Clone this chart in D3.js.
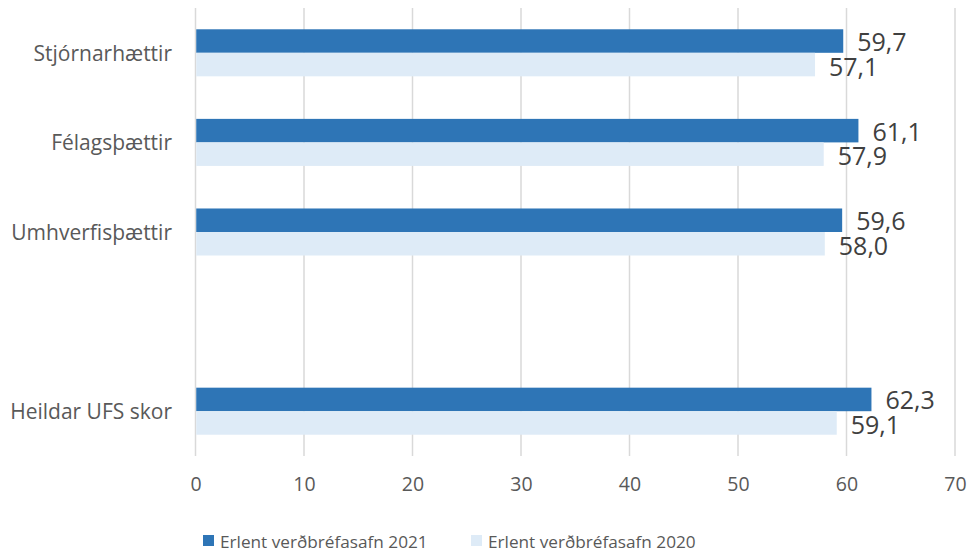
<!DOCTYPE html>
<html><head><meta charset="utf-8">
<script src="https://cdn.jsdelivr.net/npm/d3@7"></script>
<style>body{margin:0;background:#fff}svg{display:block}</style>
</head><body><svg id="c" width="971" height="551"></svg>
<script>
const categories = ["Stjórnarhættir","Félagsþættir","Umhverfisþættir","","Heildar UFS skor"];
const values2021 = [59.7, 61.1, 59.6, null, 62.3];
const values2020 = [57.1, 57.9, 58.0, null, 59.1];
const seriesNames = ["Erlent verðbréfasafn 2021","Erlent verðbréfasafn 2020"];
const xTicks = [0,10,20,30,40,50,60,70];
const colors = ["#2E75B6","#DEEBF7"];

const font = "'Open Sans', Lato, sans-serif";
const svg = d3.select("#c");
const m = {l:195.5, r:955, t:8, b:456};
const x = d3.scaleLinear().domain([0,70]).range([m.l, m.r]);
const y = d3.scaleBand().domain(d3.range(categories.length)).range([m.t, m.b]).paddingInner(0.475).paddingOuter(0.2375);
const ys = d3.scaleBand().domain([0,1]).range([0, y.bandwidth()]);

// gridlines
svg.append("g").selectAll("line").data(xTicks).join("line")
  .attr("x1", d=>x(d)).attr("x2", d=>x(d)).attr("y1", m.t).attr("y2", m.b)
  .attr("stroke", "#D9D9D9").attr("stroke-width", 1.5);

const rows = categories.map((c,i)=>({i, vals:[values2021[i], values2020[i]]}));
const g = svg.append("g");
rows.forEach(r=>{
  r.vals.forEach((v,s)=>{
    if(v==null) return;
    g.append("rect").attr("x", x(0)+0.75).attr("y", y(r.i)+ys(s))
      .attr("width", x(v)-x(0)-0.75).attr("height", ys.bandwidth()).attr("fill", colors[s]);
    g.append("text").attr("x", x(v)+14).attr("y", y(r.i)+ys(s)+ys.bandwidth()/2 + (s===0?0:1))
      .attr("dominant-baseline","central").attr("font-family", font).attr("font-size", 25)
      .attr("fill","#404040").text(d3.format(".1f")(v).replace(".", ","));
  });
});

// category labels
svg.append("g").selectAll("text").data(categories).join("text")
  .attr("x", 172).attr("y", (d,i)=>y(i)+y.bandwidth()/2)
  .attr("text-anchor","end").attr("dominant-baseline","central")
  .attr("font-family", font).attr("font-size", 21).attr("fill","#595959").text(d=>d);

// x axis
const xa = svg.append("g").attr("transform", `translate(0,${m.b})`)
  .call(d3.axisBottom(x).tickValues(xTicks).tickSize(0).tickPadding(21));
xa.select(".domain").remove();
xa.selectAll("text").attr("font-family", font).attr("font-size", 19.5).attr("fill","#595959");

// legend
const leg = svg.append("g");
const lx = [203, 471];
seriesNames.forEach((n,i)=>{
  leg.append("rect").attr("x", lx[i]).attr("y", 535).attr("width", 11).attr("height", 11).attr("fill", colors[i]);
  leg.append("text").attr("x", lx[i]+17).attr("y", 541).attr("dominant-baseline","central")
    .attr("font-family", font).attr("font-size", 17.2).attr("fill","#595959").text(n);
});
</script></body></html>
